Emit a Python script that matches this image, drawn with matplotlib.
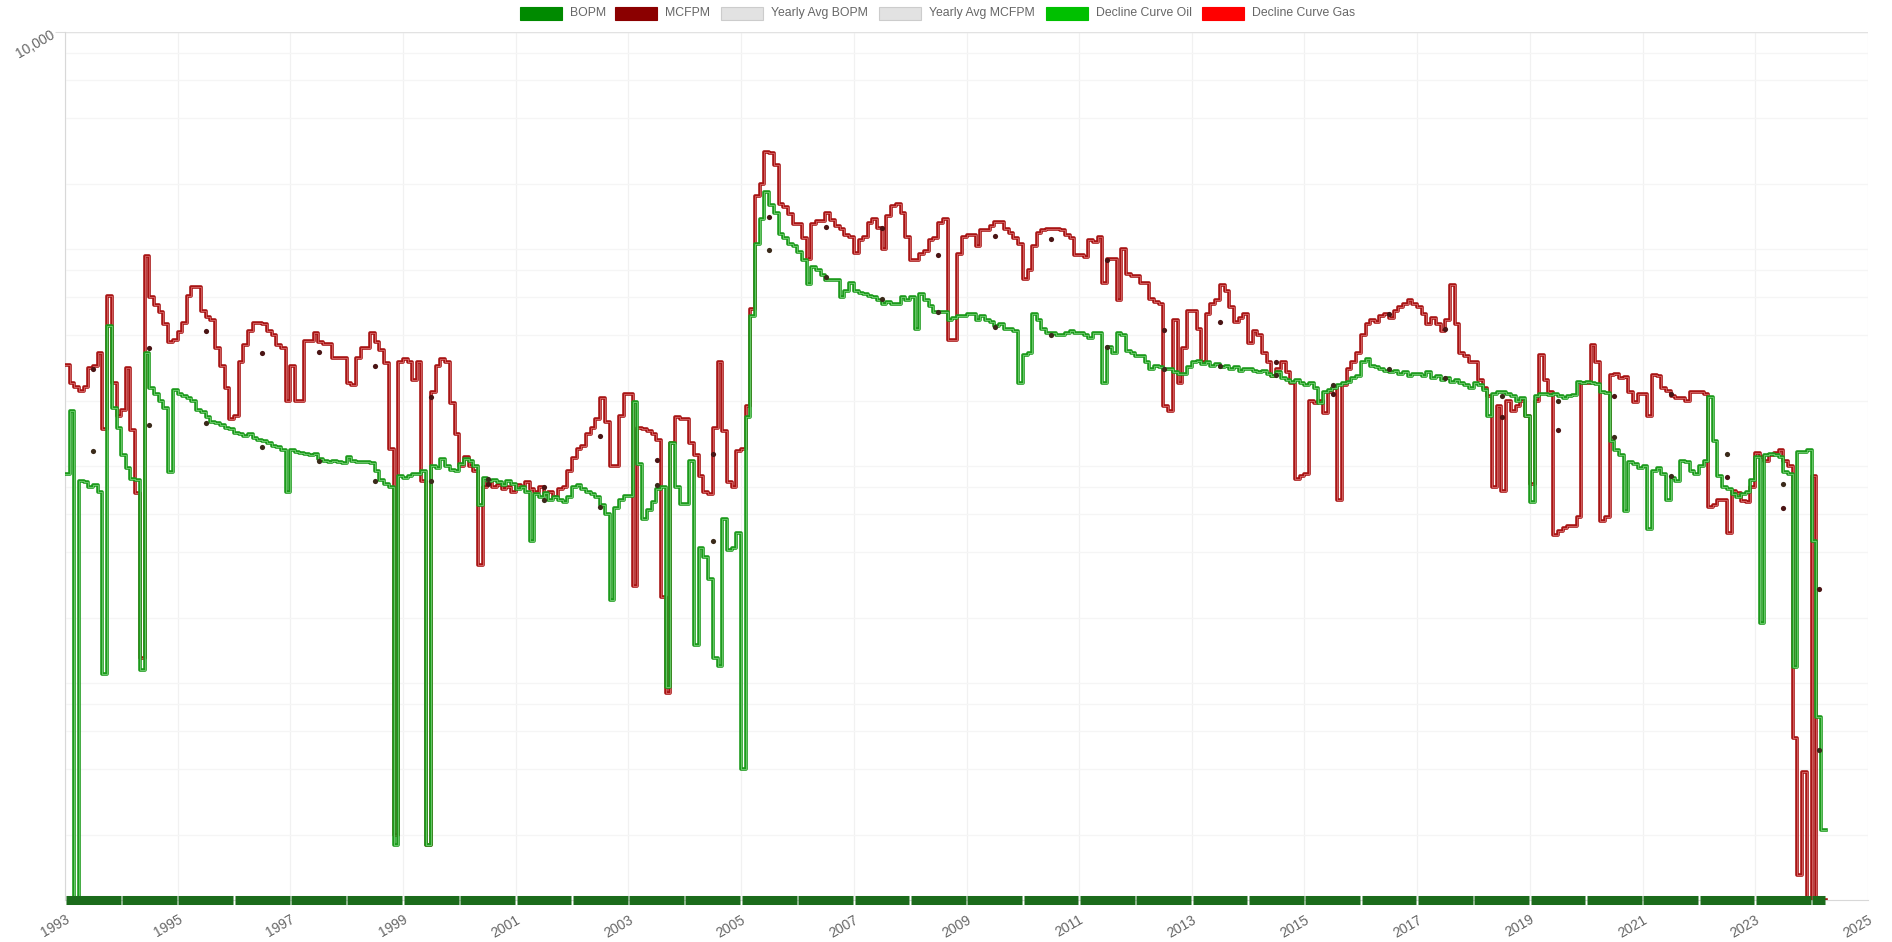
import numpy as np
import pandas as pd
import matplotlib
matplotlib.use("Agg")
import matplotlib.pyplot as plt
from matplotlib.patches import Rectangle
from matplotlib.ticker import FixedLocator, NullFormatter

plt.rcParams['font.family'] = ['Liberation Sans', 'DejaVu Sans']

W, H = 1892, 942
START = "1993-01-01"
YMIN, YMAX = 1, 10000

# monthly oil (BOPM), one line per year from 1993, 2024 is partial
bopm = [
    92, 180, 0, 85, 84, 80, 82, 76, 11, 440, 185, 150,
    112, 98, 87, 86, 11.5, 330, 230, 215, 200, 185, 94, 224,
    215, 210, 205, 200, 182, 178, 168, 160, 158, 155, 150, 148,
    142, 140, 138, 140, 135, 132, 130, 128, 124, 122, 118, 76,
    118, 116, 115, 113, 112, 114, 108, 106, 104, 106, 104, 103,
    110, 106, 104, 104, 104, 103, 95, 86, 83, 80, 1.8, 90,
    88, 90, 92, 92, 95, 1.8, 100, 98, 108, 100, 96, 95,
    102, 108, 105, 100, 66, 88, 85, 86, 84, 82, 85, 83,
    78, 80, 76, 45, 74, 72, 75, 70, 72, 70, 68, 72,
    80, 82, 78, 76, 74, 72, 66, 60, 24, 64, 70, 73,
    73, 198, 102, 57, 63, 68, 78, 80, 9.6, 127, 80, 67,
    67, 105, 15, 42, 38, 30, 13, 12, 57, 41, 42, 49,
    4, 169, 490, 1060, 1380, 1830, 1600, 1460, 1170, 1120, 1060, 1030,
    971, 890, 692, 823, 798, 760, 719, 719, 719, 600, 640, 700,
    640, 630, 620, 610, 600, 580, 560, 570, 560, 560, 600, 580,
    600, 430, 620, 580, 545, 510, 515, 515, 470, 480, 490, 490,
    500, 500, 470, 490, 470, 460, 440, 450, 430, 430, 420, 240,
    325, 330, 500, 470, 430, 410, 410, 400, 400, 410, 420, 410,
    410, 400, 390, 410, 410, 240, 355, 330, 410, 400, 340, 330,
    320, 320, 300, 280, 290, 285, 280, 280, 270, 265, 265, 285,
    300, 305, 295, 300, 290, 295, 285, 290, 280, 285, 275, 280,
    280, 275, 270, 275, 265, 260, 270, 255, 250, 245, 250, 240,
    235, 240, 230, 195, 220, 225, 230, 235, 240, 245, 255, 260,
    300, 310, 290, 285, 280, 275, 270, 275, 265, 270, 260, 265,
    265, 260, 270, 255, 260, 250, 255, 245, 250, 240, 235, 230,
    240, 235, 225, 170, 215, 220, 220, 215, 210, 200, 205, 170,
    68, 210, 215, 215, 212, 215, 210, 205, 210, 212, 245, 240,
    245, 240, 238, 220, 218, 130, 118, 112, 62, 104, 102, 98,
    100, 51, 95, 98, 92, 70, 88, 85, 105, 104, 95, 92,
    100, 105, 207, 130, 90, 80, 78, 74, 72, 74, 76, 86,
    110, 19, 112, 114, 112, 110, 94, 92, 11.9, 116, 116, 118,
    45, 7, 2.1,
]

# monthly gas (MCFPM)
mcfpm = [
    292, 240, 232, 222, 232, 282, 290, 330, 148, 610, 240, 170,
    181, 284, 147, 75, 13, 930, 600, 552, 515, 450, 374, 380,
    414, 455, 610, 670, 670, 520, 485, 470, 350, 290, 230, 165,
    170, 300, 360, 420, 455, 455, 450, 420, 400, 360, 350, 200,
    290, 200, 200, 375, 375, 408, 374, 365, 365, 313, 313, 313,
    240, 235, 313, 350, 350, 408, 374, 343, 297, 120, 2, 300,
    310, 300, 250, 300, 85, 1.8, 220, 290, 310, 300, 195, 140,
    100, 110, 100, 95, 35, 80, 84, 80, 82, 78, 80, 76,
    82, 80, 84, 78, 76, 80, 74, 76, 72, 78, 80, 95,
    109, 120, 124, 140, 150, 165, 205, 160, 100, 100, 170, 215,
    215, 28, 150, 148, 145, 140, 132, 25, 9, 128, 168, 165,
    165, 127, 112, 90, 76, 74, 150, 300, 145, 84, 80, 117,
    120, 190, 530, 1750, 2000, 2800, 2780, 2450, 1620, 1560, 1450, 1310,
    1310, 1120, 900, 1310, 1340, 1340, 1460, 1360, 1270, 1230, 1160, 1140,
    960, 1100, 1140, 1320, 1370, 1250, 1000, 1420, 1580, 1620, 1460, 1140,
    890, 890, 950, 980, 1100, 1120, 1320, 1370, 380, 380, 950, 1140,
    1160, 1160, 1030, 1220, 1220, 1270, 1330, 1330, 1240, 1180, 1120, 1060,
    730, 800, 1030, 1180, 1220, 1240, 1240, 1240, 1220, 1160, 1120, 940,
    940, 920, 1100, 1080, 1140, 700, 900, 900, 580, 1000, 770, 750,
    750, 700, 700, 590, 570, 560, 190, 180, 470, 240, 350, 520,
    520, 430, 300, 500, 560, 580, 680, 640, 540, 460, 480, 500,
    370, 420, 400, 330, 300, 260, 280, 300, 270, 240, 87, 90,
    92, 200, 195, 200, 175, 220, 230, 70, 235, 280, 300, 330,
    400, 450, 470, 460, 490, 500, 480, 520, 540, 560, 580, 560,
    540, 500, 450, 480, 450, 420, 470, 680, 450, 330, 320, 300,
    300, 250, 230, 210, 80, 190, 77, 200, 180, 190, 200, 170,
    83, 200, 325, 250, 220, 48, 50, 52, 53, 53, 58, 240,
    240, 360, 300, 56, 58, 262, 265, 255, 258, 220, 198, 215,
    215, 170, 262, 260, 230, 222, 210, 205, 205, 200, 220, 220,
    220, 215, 65, 66, 70, 70, 49, 77, 75, 69, 68, 80,
    115, 110, 105, 112, 115, 118, 105, 100, 5.6, 1.3, 3.9, 0,
    90, 0, 0,
]

avg_years = list(range(1993, 2025))
avg_bopm = [117, 155, 158, 122, 105, 85, 85, 87, 70, 65, 82, 45, 990, 740, 590, 510,
            435, 400, 355, 280, 290, 262, 235, 280, 255, 210, 200, 136, 90, 114, 83, 4.9]
avg_mcfpm = [280, 350, 420, 330, 335, 290, 207, 83, 80, 138, 107, 113, 1410, 1260, 1250, 940,
             1150, 1110, 890, 425, 460, 300, 215, 500, 430, 168, 146, 210, 215, 89, 64, 27]

tick_years = list(range(1993, 2026, 2))
grid_values = [8000, 6000, 4000, 2000, 1000, 800, 600, 400, 200, 100,
               80, 60, 40, 20, 10, 8, 6, 4, 2]

legend_labels = ["BOPM", "MCFPM", "Yearly Avg BOPM", "Yearly Avg MCFPM",
                 "Decline Curve Oil", "Decline Curve Gas"]
legend_colors = ["#008a00", "#8b0000", "#e2e2e2", "#e2e2e2", "#00c000", "#ff0000"]
legend_x = [520, 615, 721, 879, 1046, 1202]

months = pd.date_range(START, periods=len(bopm), freq="MS")
data_end = months[-1] + pd.DateOffset(months=1)


def stepped(vals):
    v = np.clip(np.asarray(vals, dtype=float), YMIN, None)
    x = list(months[:len(v)]) + [data_end]
    y = list(v) + [v[-1]]
    return x, y


fig = plt.figure(figsize=(W / 100, H / 100), dpi=100)
ax = fig.add_axes([65 / W, 1 - 900 / H, (1868 - 65) / W, (900 - 32) / H])
ax.set_yscale("log")
ax.set_ylim(YMIN, YMAX)
ax.set_xlim(pd.Timestamp("1993-01-01"), pd.Timestamp("2025-01-01"))

# grid (very faint, as in the source)
ax.yaxis.set_major_locator(FixedLocator([YMAX]))
ax.set_yticklabels(["10,000"])
ax.yaxis.set_minor_locator(FixedLocator(grid_values))
ax.yaxis.set_minor_formatter(NullFormatter())
ax.tick_params(axis="y", which="minor", length=0)
ax.tick_params(axis="y", which="major", length=7, color="#dddddd", pad=2,
               labelcolor="#666666", labelsize=10)
for lab in ax.get_yticklabels():
    lab.set_rotation(30)
    lab.set_ha("right")
    lab.set_rotation_mode("anchor")
ax.grid(axis="y", which="both", color="#f5f5f5", lw=0.9)

tick_dates = [pd.Timestamp(y, 1, 1) for y in tick_years]
ax.set_xticks(tick_dates)
ax.set_xticklabels([str(y) for y in tick_years], rotation=30, ha="right",
                   rotation_mode="anchor", color="#666666", fontsize=10)
ax.tick_params(axis="x", length=0, pad=9)
ax.grid(axis="x", color="#f1f1f1", lw=0.9)

for s in ["top", "right"]:
    ax.spines[s].set_visible(False)
ax.spines["left"].set_color("#d8d8d8")
ax.spines["bottom"].set_color("#d8d8d8")
ax.axhline(YMAX, color="#e2e2e2", lw=1)

# gas then oil, oil drawn on top
gx, gy = stepped(mcfpm)
ax.plot(gx, gy, drawstyle="steps-post", color="#a81414", lw=2.6, zorder=3)
ax.plot(gx, gy, drawstyle="steps-post", color="#d86a6a", lw=0.6, zorder=3)
ox, oy = stepped(bopm)
ax.plot(ox, oy, drawstyle="steps-post", color="#1c9a1c", lw=2.6, zorder=4)
ax.plot(ox, oy, drawstyle="steps-post", color="#74cf74", lw=0.6, zorder=4)

# thick marks along the bottom, one per year
for yr in avg_years:
    s = pd.Timestamp(yr, 1, 1) + pd.Timedelta(days=5)
    e = min(pd.Timestamp(yr + 1, 1, 1), data_end) - pd.Timedelta(days=5)
    ax.plot([s, e], [YMIN, YMIN], color="#1b6b1b", lw=6.5,
            solid_capstyle="butt", clip_on=False, zorder=5)

# yearly averages at the middle of each year's data
avg_dates = []
for yr in avg_years:
    ym = months[months.year == yr]
    avg_dates.append(ym[0] + (ym[-1] + pd.DateOffset(months=1) - ym[0]) / 2)
ax.scatter(avg_dates, avg_mcfpm, s=14, color="#4a1414", zorder=6, lw=0)
ax.scatter(avg_dates, avg_bopm, s=14, color="#3a2a1a", zorder=6, lw=0)

# legend across the top
for lab, col, x0 in zip(legend_labels, legend_colors, legend_x):
    edge = "#cccccc" if col == "#e2e2e2" else col
    fig.add_artist(Rectangle((x0 / W, 1 - 19.5 / H), 42 / W, 13 / H,
                             transform=fig.transFigure, facecolor=col,
                             edgecolor=edge, lw=0.8))
    fig.text((x0 + 50) / W, 1 - 13 / H, lab, ha="left", va="center",
             fontsize=8.8, color="#666666")

fig.savefig("out.png", dpi=100)
